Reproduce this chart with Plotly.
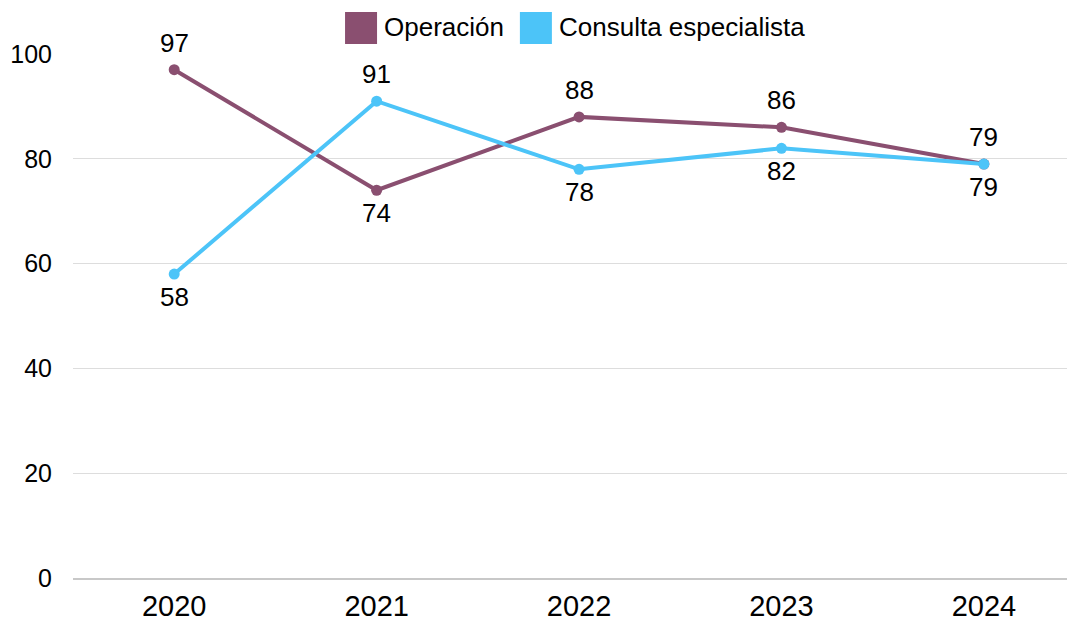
import plotly.graph_objects as go

years = ["2020", "2021", "2022", "2023", "2024"]
operacion = [97, 74, 88, 86, 79]
consulta = [58, 91, 78, 82, 79]
op_above = [True, False, True, True, True]
co_above = [False, True, False, False, False]
series_names = ["Operación", "Consulta especialista"]
y_ticks = [0, 20, 40, 60, 80, 100]

C_OP = "#8A4F70"
C_CO = "#4CC4F8"
FONT = "Liberation Sans, Arial, sans-serif"

fig = go.Figure()
fig.add_trace(go.Scatter(
    x=years, y=operacion, name=series_names[0], mode="lines+markers",
    line=dict(color=C_OP, width=4), marker=dict(color=C_OP, size=11), cliponaxis=False,
))
fig.add_trace(go.Scatter(
    x=years, y=consulta, name=series_names[1], mode="lines+markers",
    line=dict(color=C_CO, width=4), marker=dict(color=C_CO, size=11), cliponaxis=False,
))

annotations = []
for vals, above in ((operacion, op_above), (consulta, co_above)):
    for i, (v, a) in enumerate(zip(vals, above)):
        annotations.append(dict(x=i, y=v, xref="x", yref="y", text=str(v), showarrow=False,
                                yshift=27 if a else -23, xanchor="center", yanchor="middle",
                                font=dict(size=26, color="#000000", family=FONT)))

# manual legend (square swatches)
legend_items = [(series_names[0], C_OP, 0.2715), (series_names[1], C_CO, 0.446)]
shapes = []
for name, col, xp in legend_items:
    shapes.append(dict(type="rect", xref="paper", yref="paper", xsizemode="pixel", ysizemode="pixel",
                       xanchor=xp, yanchor=1.0, x0=0, x1=32, y0=10, y1=42,
                       fillcolor=col, line=dict(width=0)))
    annotations.append(dict(xref="paper", yref="paper", x=xp, y=1.0, xshift=37, yshift=27,
                            text=name, showarrow=False, xanchor="left", yanchor="middle",
                            font=dict(size=26, color="#000000", family=FONT)))

# page body has an 8px margin, so the figure is sized/offset to compensate
fig.update_layout(
    width=1067, height=613,
    margin=dict(l=65, r=0, t=46, b=43),
    paper_bgcolor="white", plot_bgcolor="white",
    showlegend=False,
    shapes=shapes, annotations=annotations,
    font=dict(family=FONT, color="#000000"),
    xaxis=dict(type="category", range=[-0.5, 4.45], showgrid=False, showline=True,
               linecolor="#C8C8C8", linewidth=1.5, ticks="", tickfont=dict(size=29),
               ticklabelstandoff=1, zeroline=False, automargin=False),
    yaxis=dict(range=[0, 100], tickvals=y_ticks, showgrid=True, gridcolor="#DDDDDD",
               gridwidth=1, ticks="", tickfont=dict(size=25), ticklabelstandoff=20,
               zeroline=False, showline=False, automargin=False),
)

fig.write_html("out.html")
